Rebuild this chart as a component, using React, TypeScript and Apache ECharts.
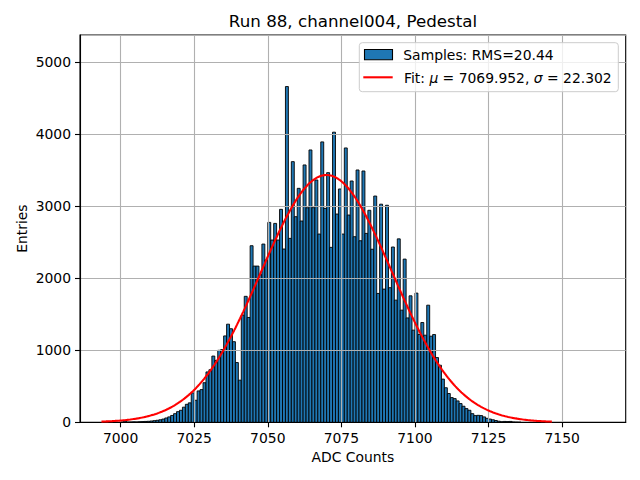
import React, { useEffect, useRef } from "react";
import * as echarts from "echarts";

// ---- Data ----
const TITLE = "Run 88, channel004, Pedestal";
const X_NAME = "ADC Counts";
const Y_NAME = "Entries";

// Histogram bins: one ADC count wide, starting at BIN_START
const BIN_START = 6995;
const BIN_WIDTH = 1;
// counts for ADC values 6995 ... 7162
const counts = [
  0, 0, 0, 1, 0, // 6995-6999
  3, 15, 3, 4, 6, 5, 8, 10, 12, 14, // 7000-7009
  18, 23, 28, 35, 45, 60, 75, 95, 120, 148, // 7010-7019
  167, 210, 250, 270, 408, 306, 436, 454, 550, 700, // 7020-7029
  730, 920, 860, 1000, 1010, 1200, 1363, 1300, 1120, 830, // 7030-7039
  585, 1490, 1750, 1456, 2453, 2170, 2170, 2050, 2476, 2254, // 7040-7049
  2777, 2532, 2763, 2532, 2958, 2407, 4664, 2555, 3621, 2856, // 7050-7059
  3250, 2796, 3575, 2980, 3783, 2981, 3366, 2615, 3895, 2972, // 7060-7069
  3468, 2430, 4030, 2893, 3241, 2615, 3811, 2879, 3352, 2578, // 7070-7079
  3505, 2522, 3491, 2624, 2945, 2404, 3143, 1790, 3030, 1850, // 7080-7089
  3015, 1870, 2435, 1697, 2548, 1558, 2267, 1450, 1757, 1280, // 7090-7099
  1795, 1219, 1386, 1210, 1627, 1196, 1219, 899, 793, 600, // 7100-7109
  480, 400, 343, 329, 297, 260, 223, 190, 167, 120, // 7110-7119
  93, 97, 93, 75, 55, 45, 35, 25, 15, 8, // 7120-7129
  12, 10, 12, 4, 2, 1, 0, 0, 0, 0, // 7130-7139
  0, 0, 0, 0, 0, 0, 0, 0, 0, 0, // 7140-7149
  0, 0, 0, 0, 0, 0, 0, 0, 0, 0, // 7150-7159
  0, 0, 0, // 7160-7162
];

const RMS = "20.44";
const FIT_MU = 7069.952;
const FIT_SIGMA = 22.302;
const FIT_AMPLITUDE = 3435;
const FIT_X_RANGE = [6993.5, 7146.5];
const FIT_POINTS = 300;

const X_MIN = 6986.2;
const X_MAX = 7171.6;
const X_TICKS = [7000, 7025, 7050, 7075, 7100, 7125, 7150];
const Y_MIN = 0;
const Y_MAX = 5380;
const Y_INTERVAL = 1000;

const FONT = "DejaVu Sans";
const FS = 13.9;

export default function App() {
  const ref = useRef<HTMLDivElement>(null);

  useEffect(() => {
    if (!ref.current) return;
    const chart = echarts.init(ref.current, undefined, { renderer: "svg" });

    const bins: number[][] = [];
    counts.forEach((c, i) => {
      if (c > 0) {
        const x0 = BIN_START + i * BIN_WIDTH;
        bins.push([x0, x0 + BIN_WIDTH, c]);
      }
    });

    const fit: number[][] = [];
    for (let i = 0; i < FIT_POINTS; i++) {
      const x = FIT_X_RANGE[0] + ((FIT_X_RANGE[1] - FIT_X_RANGE[0]) * i) / (FIT_POINTS - 1);
      const y = FIT_AMPLITUDE * Math.exp(-((x - FIT_MU) ** 2) / (2 * FIT_SIGMA * FIT_SIGMA));
      fit.push([x, y]);
    }

    chart.setOption({
      animation: false,
      backgroundColor: "#ffffff",
      textStyle: { fontFamily: FONT },
      title: {
        text: TITLE,
        left: 353,
        top: 12,
        padding: 0,
        textAlign: "center",
        textStyle: { fontFamily: FONT, fontSize: 16.7, fontWeight: "normal", color: "#000" },
      },
      grid: {
        left: 80,
        top: 35,
        right: 14.3,
        bottom: 57.7,
        show: true,
        borderColor: "#000",
        borderWidth: 1.1,
        containLabel: false,
      },
      xAxis: {
        type: "value",
        min: X_MIN,
        max: X_MAX,
        z: 3,
        name: X_NAME,
        nameLocation: "middle",
        nameGap: 28,
        nameMoveOverlap: false,
        nameTextStyle: { fontFamily: FONT, fontSize: FS, color: "#000" },
        axisLine: { show: true, onZero: false, lineStyle: { color: "#000", width: 1.1 } },
        axisTick: {
          show: true,
          inside: false,
          length: 5,
          customValues: X_TICKS,
          lineStyle: { color: "#000", width: 1.1 },
        },
        axisLabel: {
          show: true,
          margin: 9,
          customValues: X_TICKS,
          fontFamily: FONT,
          fontSize: FS,
          color: "#000",
          formatter: (v: number) => String(Math.round(v)),
        },
        splitLine: { show: true, lineStyle: { color: "#b0b0b0", width: 1.1 } },
      },
      yAxis: {
        type: "value",
        min: Y_MIN,
        max: Y_MAX,
        interval: Y_INTERVAL,
        z: 3,
        name: Y_NAME,
        nameLocation: "middle",
        nameGap: 51,
        nameMoveOverlap: false,
        nameRotate: 90,
        nameTextStyle: { fontFamily: FONT, fontSize: FS, color: "#000" },
        axisLine: { show: true, lineStyle: { color: "#000", width: 1.1 } },
        axisTick: { show: true, inside: false, length: 5, lineStyle: { color: "#000", width: 1.1 } },
        axisLabel: {
          show: true,
          margin: 9,
          showMaxLabel: false,
          fontFamily: FONT,
          fontSize: FS,
          color: "#000",
          formatter: (v: number) => (Math.abs(v % Y_INTERVAL) < 1e-6 ? String(Math.round(v)) : ""),
        },
        splitLine: { show: true, lineStyle: { color: "#b0b0b0", width: 1.1 } },
      },
      series: [
        {
          type: "custom",
          name: "Samples",
          z: 2,
          clip: true,
          encode: { x: [0, 1], y: 2 },
          data: bins,
          renderItem: (params: any, api: any) => {
            const x0 = api.value(0);
            const x1 = api.value(1);
            const c = api.value(2);
            const p0 = api.coord([x0, c]);
            const p1 = api.coord([x1, 0]);
            return {
              type: "rect",
              shape: { x: p0[0], y: p0[1], width: p1[0] - p0[0], height: p1[1] - p0[1] },
              style: { fill: "#1f77b4", stroke: "#000", lineWidth: 0.9 },
            };
          },
        },
        {
          type: "line",
          name: "Fit",
          z: 5,
          data: fit,
          showSymbol: false,
          symbol: "none",
          lineStyle: { color: "#ff0000", width: 2.1 },
        },
      ],
      graphic: [
        {
          type: "rect",
          z: 100,
          shape: { x: 359.3, y: 42.7, width: 259, height: 49, r: 3 },
          style: { fill: "rgba(255,255,255,0.8)", stroke: "#cccccc", lineWidth: 1 },
        },
        {
          type: "rect",
          z: 101,
          shape: { x: 364.5, y: 49.5, width: 28, height: 10.2 },
          style: { fill: "#1f77b4", stroke: "#000", lineWidth: 1.1 },
        },
        {
          type: "text",
          z: 101,
          x: 403.3,
          y: 54.5,
          style: {
            text: `Samples: RMS=${RMS}`,
            fontFamily: FONT,
            fontSize: FS,
            fill: "#000",
            verticalAlign: "middle",
            align: "left",
          },
        },
        {
          type: "line",
          z: 101,
          shape: { x1: 363.3, y1: 77.3, x2: 392.7, y2: 77.3 },
          style: { stroke: "#ff0000", lineWidth: 2.1 },
        },
        {
          type: "text",
          z: 101,
          x: 404,
          y: 77.5,
          style: {
            text: `{n|Fit: }{i|μ}{n| = ${FIT_MU.toFixed(3)}, }{i|σ}{n| = ${FIT_SIGMA.toFixed(3)}}`,
            fontFamily: FONT,
            fontSize: FS,
            fill: "#000",
            verticalAlign: "middle",
            align: "left",
            rich: {
              n: { fontFamily: FONT, fontSize: FS, fill: "#000" },
              i: { fontFamily: FONT, fontSize: FS, fontStyle: "italic", fill: "#000" },
            },
          },
        },
      ],
    });

    return () => {
      chart.dispose();
    };
  }, []);

  return (
    <div
      ref={ref}
      style={{ position: "absolute", left: 0, top: 0, width: 640, height: 480, background: "#fff" }}
    />
  );
}
